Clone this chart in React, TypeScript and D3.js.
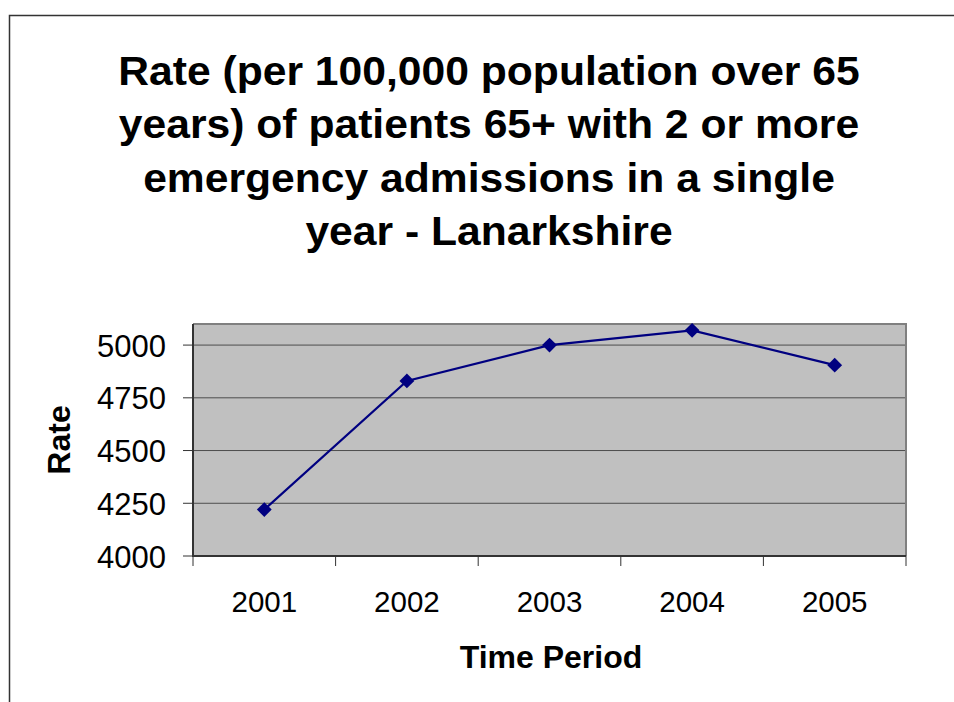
import React from "react";
import * as d3 from "d3";

const years = ["2001", "2002", "2003", "2004", "2005"];
const rates = [4220, 4830, 5000, 5070, 4905];
const yTicks = [4000, 4250, 4500, 4750, 5000];
const titleLines = [
  "Rate (per 100,000 population over 65",
  "years) of patients 65+ with 2 or more",
  "emergency admissions in a single",
  "year - Lanarkshire",
];

export default function App() {
  const W = 954, H = 702;
  const left = 193, right = 906, top = 324, bottom = 556;
  const x = d3.scaleBand<string>().domain(years).range([left, right]);
  const y = d3.scaleLinear().domain([4000, 5100]).range([bottom, top]);
  const cx = (i: number) => (x(years[i]) as number) + x.bandwidth() / 2;
  const line = d3
    .line<number>()
    .x((_, i) => cx(i))
    .y((d) => y(d));
  const font = "Arial, 'Liberation Sans', sans-serif";
  const diamond = d3.symbol().type(d3.symbolDiamond2 ?? d3.symbolDiamond).size(140)();
  return (
    <svg
      width={W}
      height={H}
      style={{ position: "absolute", left: 0, top: 0, background: "#fff" }}
    >
      <rect x={0} y={0} width={W} height={H} fill="#fff" />
      <path d={`M9.5,${H}V15.5H${W}`} fill="none" stroke="#333" strokeWidth={1.5} />
      <g fontFamily={font} fontWeight="bold" fontSize={41} textAnchor="middle">
        {titleLines.map((t, i) => (
          <text key={i} x={489} y={85 + i * 53.5} transform={`translate(489,0) scale(1.04,1) translate(-489,0)`}>
            {t}
          </text>
        ))}
      </g>
      <rect x={left} y={top} width={right - left} height={bottom - top} fill="#c0c0c0" />
      {yTicks.slice(1).map((t) => (
        <line key={t} x1={left} x2={right} y1={y(t)} y2={y(t)} stroke="#4d4d4d" strokeWidth={1} />
      ))}
      <path d={`M${left},${top}H${right}V${bottom}`} fill="none" stroke="#808080" strokeWidth={2} />
      <line x1={left} x2={left} y1={top} y2={bottom} stroke="#333" strokeWidth={2} />
      <line x1={left - 1} x2={right} y1={bottom} y2={bottom} stroke="#333" strokeWidth={2} />
      {yTicks.map((t) => (
        <g key={t}>
          <line x1={left - 10} x2={left} y1={y(t)} y2={y(t)} stroke="#333" strokeWidth={1} />
          <text x={166} y={y(t) + 11.5} textAnchor="end" fontFamily={font} fontSize={31}>
            {t}
          </text>
        </g>
      ))}
      {[...years.map((yr) => x(yr) as number), right].map((v, i) => (
        <line key={i} x1={v} x2={v} y1={bottom} y2={bottom + 10} stroke="#333" strokeWidth={1} />
      ))}
      {years.map((yr, i) => (
        <text key={yr} x={cx(i)} y={612} textAnchor="middle" fontFamily={font} fontSize={29.5}>
          {yr}
        </text>
      ))}
      <path d={line(rates) ?? ""} fill="none" stroke="#000080" strokeWidth={2.2} />
      {rates.map((r, i) => (
        <path key={i} d={diamond ?? ""} transform={`translate(${cx(i)},${y(r)})`} fill="#000080" />
      ))}
      <text x={551} y={668} textAnchor="middle" fontFamily={font} fontWeight="bold" fontSize={32}>
        Time Period
      </text>
      <text
        transform={`translate(70,440) rotate(-90)`}
        textAnchor="middle"
        fontFamily={font}
        fontWeight="bold"
        fontSize={32}
      >
        Rate
      </text>
    </svg>
  );
}
